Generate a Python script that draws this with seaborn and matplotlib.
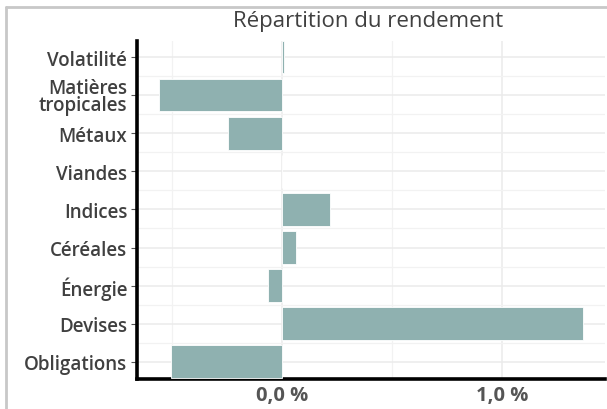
import matplotlib
matplotlib.use("Agg")
import matplotlib.pyplot as plt
from matplotlib.lines import Line2D
from matplotlib.ticker import FixedLocator, FuncFormatter
import seaborn as sns
import pandas as pd

categories = ["Volatilité", "Matières\ntropicales", "Métaux", "Viandes", "Indices",
              "Céréales", "Énergie", "Devises", "Obligations"]
values = [0.007, -0.56, -0.245, 0.0, 0.218, 0.064, -0.066, 1.37, -0.505]
x_ticks = [0.0, 1.0]
x_tick_labels = ["0,0 %", "1,0 %"]
title = "Répartition du rendement"

sns.set_theme(style="white")
plt.rcParams["font.family"] = ["Open Sans", "DejaVu Sans"]

df = pd.DataFrame({"cat": categories, "val": values})

fig = plt.figure(figsize=(6.07, 4.10), dpi=100)
L, R, T, B = 137, 605, 42, 380
ax = fig.add_axes([L / 607, 1 - B / 410, (R - L) / 607, (B - T) / 410])

sns.barplot(data=df, x="val", y="cat", orient="h", color="#8fb1b0", saturation=1,
            width=0.86, edgecolor="white", linewidth=0.6, ax=ax, zorder=3)

ax.set_xlim(-0.66, 1.468)
ax.set_ylim(8.45, -0.42)

ax.xaxis.set_major_locator(FixedLocator(x_ticks))
ax.xaxis.set_major_formatter(FuncFormatter(lambda v, p: x_tick_labels[x_ticks.index(round(v, 1))]))
ax.xaxis.set_minor_locator(FixedLocator([-0.5, 0.5]))
ax.yaxis.set_minor_locator(FixedLocator([i + 0.5 for i in range(-1, 9)]))

ax.grid(True, which="major", color="#ebebeb", lw=1.1, zorder=0)
ax.grid(True, which="minor", color="#f2f2f2", lw=0.9, zorder=0)
ax.set_axisbelow(True)

ax.set_xlabel("")
ax.set_ylabel("")
for s in ["top", "right"]:
    ax.spines[s].set_visible(False)
for s in ["left", "bottom"]:
    ax.spines[s].set_visible(True)
    ax.spines[s].set_color("black")
    ax.spines[s].set_linewidth(2.6)

ax.tick_params(axis="y", which="major", length=4, width=0.8, color="#555555",
               labelsize=13.5, labelcolor="#404040", pad=3, left=True)
ax.tick_params(axis="x", which="major", length=0, labelsize=14.5, labelcolor="#555555", pad=4)
ax.tick_params(which="minor", length=0)
for t in ax.get_xticklabels():
    t.set_fontweight("bold")
for t in ax.get_yticklabels():
    t.set_linespacing(0.85)
    t.set_fontweight("semibold")

fig.text(368 / 607, 1 - 22 / 410, title, ha="center", va="center",
         fontsize=16, color="#404040")

border = "#c8c8c8"
fig.add_artist(Line2D([6 / 607, 6 / 607], [0, 1 - 8 / 410], transform=fig.transFigure,
                      color=border, lw=2))
fig.add_artist(Line2D([6 / 607, 1], [1 - 8 / 410, 1 - 8 / 410], transform=fig.transFigure,
                      color=border, lw=2))

fig.savefig("out.png", dpi=100)
